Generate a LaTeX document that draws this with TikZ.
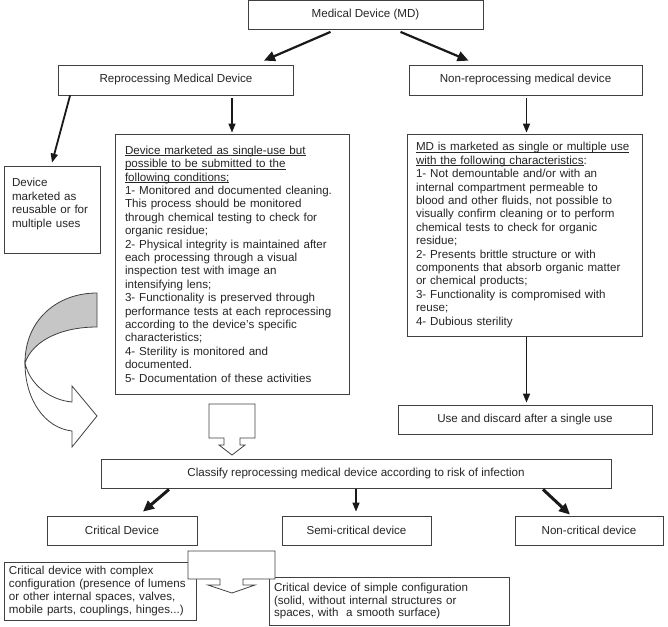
\documentclass[tikz,border=0pt]{standalone}
\usepackage{fontspec}
\setmainfont{Liberation Sans}
\usetikzlibrary{arrows.meta}
\newcommand{\undl}[1]{\underline{\raisebox{0pt}[\height][0pt]{#1}}}

\begin{document}
\begin{tikzpicture}[x=1bp,y=-1bp,
  box/.style={draw=black!75,line width=0.8bp,fill=white,text=black!85,inner sep=0bp,
    font=\fontsize{11.6bp}{13.4bp}\selectfont},
  listbox/.style={box,align=left},
  smallbox/.style={listbox,font=\fontsize{11.6bp}{12.7bp}\selectfont},
  arr/.style={draw=black!90,line width=1.4bp,-{Triangle[length=9bp,width=7bp]}},
  bigarr/.style={draw=black!90,line width=2.2bp,-{Triangle[length=11bp,width=10bp]}},
  blockarr/.style={draw=black!75,line width=0.8bp,fill=white}]
\useasboundingbox (0,0) rectangle (668,627);

% Top level
\node[box,minimum width=235bp,minimum height=29bp] (md) at (365.5,15) {Medical Device (MD)};
\node[box,minimum width=235bp,minimum height=30bp] (rep) at (176,80) {Reprocessing Medical Device};
\node[box,minimum width=233bp,minimum height=30bp] (nonrep) at (525.5,80) {Non-reprocessing medical device};

% Conditions
\node[listbox,inner xsep=8bp,text width=80bp,minimum height=87bp] (reuse) at (52,209.5)
  {Device\\marketed as\\reusable or for\\multiple uses\\\mbox{}};
\node[listbox,inner xsep=10bp,text width=214bp,minimum height=260bp] (single) at (232,264) {%
  \undl{Device marketed as single-use but}\\
  \undl{possible to be submitted to the}\\
  \undl{following conditions;}\\
  1- Monitored and documented cleaning.\\
  This process should be monitored\\
  through chemical testing to check for\\
  organic residue;\\
  2- Physical integrity is maintained after\\
  each processing through a visual\\
  inspection test with image an\\
  intensifying lens;\\
  3- Functionality is preserved through\\
  performance tests at each reprocessing\\
  according to the device's specific\\
  characteristics;\\
  4- Sterility is monitored and\\
  documented.\\
  5- Documentation of these activities};
\node[listbox,inner xsep=9bp,text width=217bp,minimum height=202bp] (charac) at (524.5,235) {%
  \undl{MD is marketed as single or multiple use}\\
  \undl{with the following characteristics}:\\
  1- Not demountable and/or with an\\
  internal compartment permeable to\\
  blood and other fluids, not possible to\\
  visually confirm cleaning or to perform\\
  chemical tests to check for organic\\
  residue;\\
  2- Presents brittle structure or with\\
  components that absorb organic matter\\
  or chemical products;\\
  3- Functionality is compromised with\\
  reuse;\\
  4- Dubious sterility};
\node[box,minimum width=254bp,minimum height=29bp] (discard) at (525,419.5) {Use and discard after a single use};

% Classification
\node[box,minimum width=510bp,minimum height=29bp] (cls) at (356,473.5)
  {Classify reprocessing medical device according to risk of infection};
\node[box,minimum width=150bp,minimum height=29bp] (crit) at (122,530.5) {Critical Device};
\node[box,minimum width=149bp,minimum height=29bp] (semi) at (356.5,530.5) {Semi-critical device};
\node[box,minimum width=148bp,minimum height=29bp] (noncrit) at (589,530.5) {Non-critical device};
\node[smallbox,inner xsep=5bp,text width=182bp,minimum height=58bp] (complex) at (100,591) {%
  Critical device with complex\\
  configuration (presence of lumens\\
  or other internal spaces, valves,\\
  mobile parts, couplings, hinges...)};
\node[smallbox,inner xsep=5bp,text width=230bp,minimum height=48bp] (simple) at (389,601) {%
  Critical device of simple configuration\\
  (solid, without internal structures or\\
  spaces, with\ \ a smooth surface)};

% Arrows
\draw[bigarr] ([xshift=-35bp,yshift=-2bp]md.south) -- ([xshift=88bp,yshift=4bp]rep.north);
\draw[bigarr] ([xshift=35bp,yshift=-2bp]md.south) -- ([xshift=-57bp,yshift=4bp]nonrep.north);
\draw[arr,line width=1.8bp] ([xshift=12bp]rep.south west) -- ([yshift=3bp]reuse.north);
\draw[arr,shorten <=3bp,shorten >=1bp] (rep.south -| single.north) -- (single.north);
\draw[arr,shorten <=3bp,shorten >=1bp] ([xshift=2bp]nonrep.south -| charac.north) -- ([xshift=2bp]charac.north);
\draw[arr,shorten <=1bp,shorten >=2bp] ([xshift=2bp]charac.south) -- ([xshift=2bp]charac.south |- discard.north);
\draw[bigarr,line width=3bp] ([xshift=-187bp,yshift=-1bp]cls.south) -- ([xshift=21bp,yshift=4bp]crit.north);
\draw[arr,shorten <=1bp,shorten >=4bp] (cls.south) -- (cls.south |- semi.north);
\draw[bigarr,line width=3bp] ([xshift=187bp,yshift=-1bp]cls.south) -- ([xshift=-19bp,yshift=1bp]noncrit.north);

% Curved arrow
\draw[blockarr,fill=gray!45] (97,293) -- (97,327) .. controls (62,327) and (33,340) .. (25,363)
  .. controls (25,320) and (57,293) .. (97,293) -- cycle;
\draw[blockarr] (25,363) .. controls (25,400) and (45,428) .. (72,431) -- (72,447) -- (97,416)
  -- (72,386) -- (72,402) .. controls (50,400) and (30,385) .. (25,363) -- cycle;

% Block arrows
\draw[blockarr] (209,404) -- (255,404) -- (255,438) -- (240,438) -- (240,445) -- (245,445)
  -- (232,455) -- (219,445) -- (224,445) -- (224,438) -- (209,438) -- cycle;
\draw[blockarr] (188,551) -- (275,551) -- (275,579) -- (243,579) -- (243,585) -- (255,585)
  -- (232,593) -- (208,585) -- (220,585) -- (220,579) -- (188,579) -- cycle;

\end{tikzpicture}
\end{document}
